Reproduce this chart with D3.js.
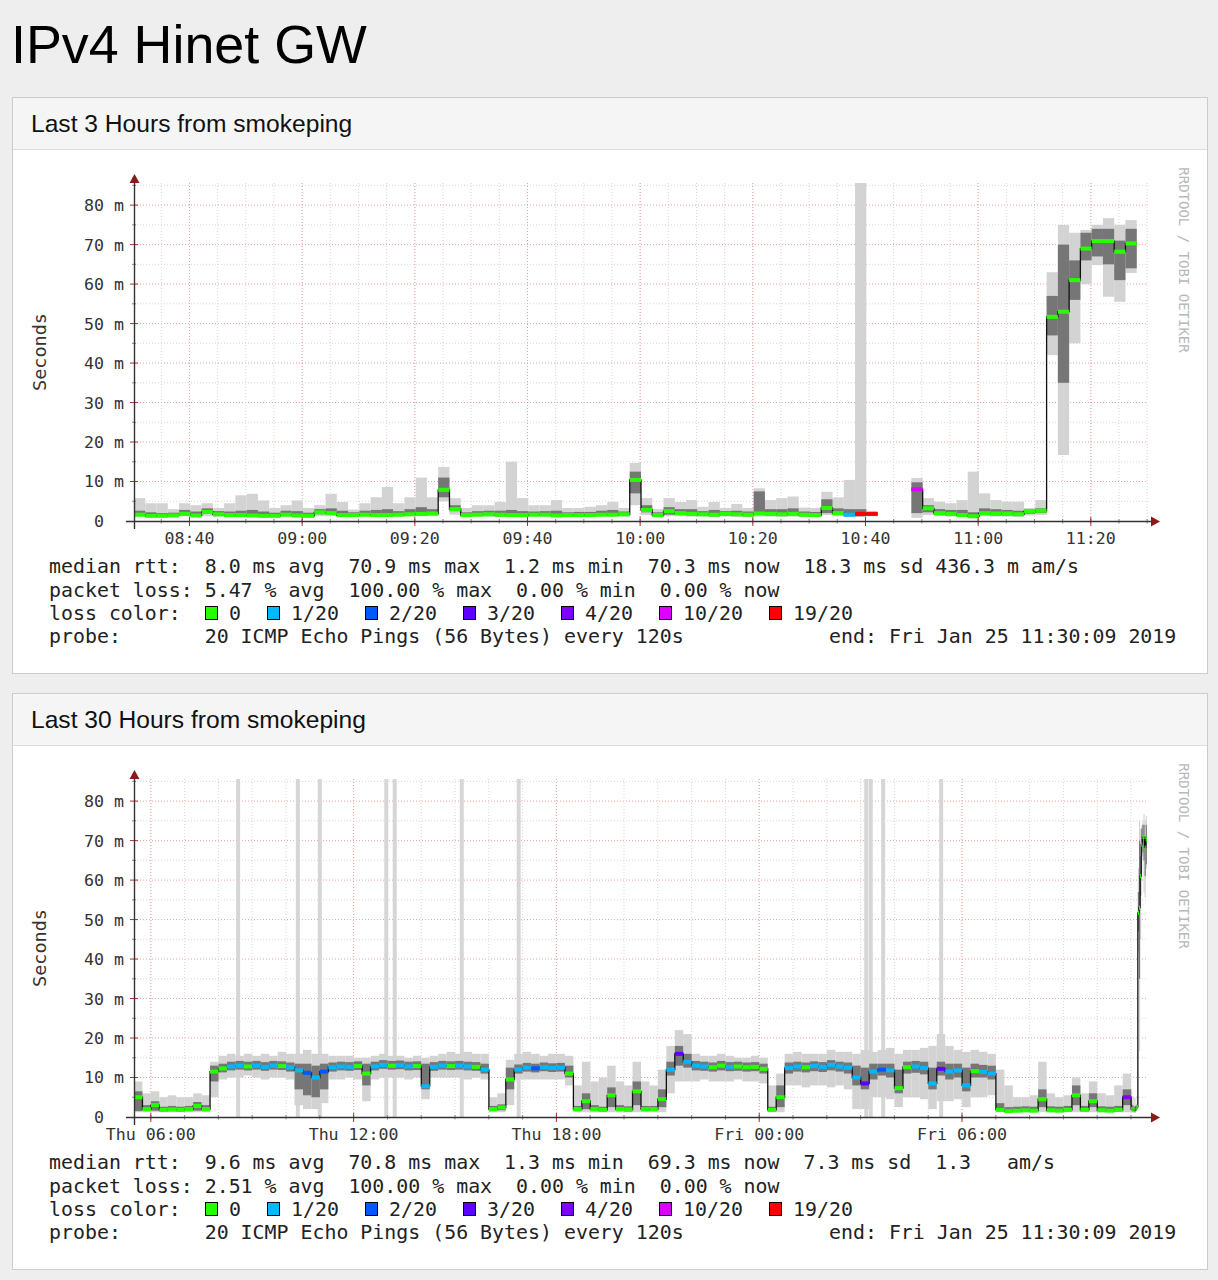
<!DOCTYPE html>
<html lang="en">
<head>
  <meta charset="UTF-8">
  <title>IPv4 Hinet GW</title>
  <style>
    body { margin: 0; background: #eeeeee; }
    svg text { white-space: pre; }
  </style>
</head>
<body>
<svg id="svg" width="1218" height="1280"></svg>

<script src="https://d3js.org/d3.v7.min.js"></script>
<script>
// ------ DATA ------------------------------------------------------------
const pageTitle = 'IPv4 Hinet GW'
const panelTitles = ['Last 3 Hours from smokeping', 'Last 30 Hours from smokeping']

const lossSteps = [0, 1, 2, 3, 4, 10, 19]
const lossLabels = ['0', '1/20', '2/20', '3/20', '4/20', '10/20', '19/20']
const lossColors = ['#26ff00', '#00b8ff', '#0059ff', '#5e00ff', '#7e00ff', '#dd00ff', '#ff0000']

const yTickValues = [0, 10, 20, 30, 40, 50, 60, 70, 80]   // milliseconds
const yMax = 85.6

// last 3 hours: one sample every 120 s
const start3h = '2019-01-25 08:30:09'
const end3h = '2019-01-25 11:30:09'
const median3h = [
  1.6, 1.3, 1.3, 1.4, 1.8, 1.4, 2.3, 1.7, 1.5, 1.5,
  1.4, 1.3, 1.3, 1.6, 1.4, 1.3, 2.2, 2.0, 1.5, 1.5,
  1.6, 1.5, 1.5, 1.6, 1.7, 1.8, 1.9, 7.9, 3.0, 1.5,
  1.6, 1.7, 1.6, 1.5, 1.5, 1.6, 1.6, 1.4, 1.5, 1.5,
  1.5, 1.6, 1.6, 1.7, 10.4, 2.8, 1.5, 2.5, 2.0, 1.8,
  1.7, 1.6, 1.8, 1.7, 1.6, 1.9, 1.8, 1.7, 1.8, 1.6,
  1.5, 3.3, 2.0, 1.6, 1.8, 1.8, null, null, null, 8.0,
  3.2, 2.0, 1.8, 1.5, 1.2, 2.0, 1.9, 1.9, 1.7, 2.4,
  2.6, 51.7, 53.0, 61.0, 69.0, 70.9, 70.9, 68.2, 70.3, null
]
const smokeLo3h = [
  1.1, 1.0, 1.0, 1.1, 1.2, 1.0, 1.2, 1.1, 1.1, 1.0,
  1.0, 1.0, 1.0, 1.1, 1.0, 1.0, 1.2, 1.2, 1.0, 1.1,
  1.1, 1.0, 1.1, 1.1, 1.2, 1.2, 1.2, 5.0, 1.6, 1.0,
  1.1, 1.1, 1.0, 1.0, 1.0, 1.1, 1.1, 1.0, 1.0, 1.0,
  1.0, 1.1, 1.1, 1.1, 4.0, 1.5, 1.0, 1.2, 1.2, 1.1,
  1.1, 1.0, 1.1, 1.0, 1.0, 1.1, 1.1, 1.0, 1.1, 1.0,
  1.0, 1.5, 1.2, 1.0, 1.0, 1.2, null, null, null, 0.8,
  1.5, 1.2, 1.1, 1.0, 0.9, 1.2, 1.1, 1.1, 1.0, 1.4,
  1.5, 42.0, 16.7, 45.0, 60.0, 64.8, 56.8, 55.5, 62.8, null
]
const smokeQ1_3h = [
  1.3, 1.1, 1.1, 1.2, 1.4, 1.2, 1.8, 1.3, 1.2, 1.2,
  1.2, 1.1, 1.1, 1.3, 1.2, 1.1, 1.7, 1.6, 1.2, 1.2,
  1.3, 1.2, 1.2, 1.3, 1.4, 1.4, 1.5, 6.0, 2.5, 1.2,
  1.3, 1.3, 1.2, 1.2, 1.2, 1.3, 1.3, 1.2, 1.2, 1.2,
  1.2, 1.3, 1.3, 1.3, 7.0, 2.2, 1.2, 1.6, 1.5, 1.4,
  1.3, 1.2, 1.4, 1.3, 1.2, 1.5, 1.4, 1.3, 1.4, 1.2,
  1.2, 2.0, 1.5, 1.2, 1.2, 1.4, null, null, null, 2.0,
  2.2, 1.5, 1.4, 1.2, 1.0, 1.5, 1.4, 1.4, 1.3, 1.8,
  2.0, 47.0, 35.0, 56.0, 66.0, 67.0, 65.0, 61.0, 64.0, null
]
const smokeQ3_3h = [
  2.6, 2.2, 2.0, 2.1, 2.8, 2.4, 3.2, 2.5, 2.4, 2.6,
  2.8, 2.4, 2.1, 2.6, 2.5, 2.1, 3.0, 3.2, 2.6, 2.2,
  2.6, 2.8, 3.0, 2.5, 3.0, 3.5, 3.0, 11.0, 4.0, 2.2,
  2.5, 2.6, 2.6, 2.8, 2.5, 2.4, 2.5, 2.6, 2.2, 2.3,
  2.3, 2.6, 2.8, 2.4, 12.5, 4.0, 2.2, 3.5, 3.0, 3.0,
  2.5, 2.8, 2.5, 2.6, 2.4, 7.5, 3.0, 3.0, 3.2, 2.4,
  2.3, 5.5, 3.2, 3.0, 3.0, 2.2, null, null, null, 9.8,
  4.0, 3.0, 2.8, 2.8, 2.2, 3.2, 3.0, 2.8, 2.6, 2.9,
  3.2, 57.0, 70.0, 66.0, 73.0, 74.0, 74.0, 71.0, 74.0, null
]
const smokeHi3h = [
  5.8, 4.5, 4.5, 3.0, 4.5, 4.0, 4.5, 3.3, 4.5, 6.5,
  6.9, 5.2, 3.3, 4.0, 5.2, 3.3, 4.0, 6.9, 4.8, 2.9,
  4.5, 6.0, 8.6, 4.5, 6.0, 11.0, 6.0, 13.7, 5.8, 3.3,
  4.0, 4.0, 4.8, 15.0, 5.8, 4.0, 4.0, 5.3, 3.3, 3.3,
  3.6, 4.0, 4.8, 3.3, 14.7, 5.8, 3.0, 5.8, 4.8, 5.3,
  3.6, 4.8, 3.3, 4.3, 3.3, 8.3, 5.3, 5.8, 6.2, 3.4,
  3.3, 7.4, 6.0, 10.4, 85.6, 2.6, null, null, null, 10.9,
  5.8, 4.9, 4.5, 5.3, 12.5, 7.0, 5.3, 4.9, 4.9, 3.3,
  5.3, 63.0, 75.0, 73.0, 73.7, 75.0, 76.7, 75.0, 76.2, null
]
const loss3h = [
  0, 0, 0, 0, 0, 0, 0, 0, 0, 0,
  0, 0, 0, 0, 0, 0, 0, 0, 0, 0,
  0, 0, 0, 0, 0, 0, 0, 0, 0, 0,
  0, 0, 0, 0, 0, 0, 0, 0, 0, 0,
  0, 0, 0, 0, 0, 0, 0, 0, 0, 0,
  0, 0, 0, 0, 0, 0, 0, 0, 0, 0,
  0, 0, 0, 1, 19, 19, null, null, null, 10,
  0, 0, 0, 0, 0, 0, 0, 0, 0, 0,
  0, 0, 0, 0, 0, 0, 0, 0, 0, null
]

// last 30 hours: 15 minute buckets up to 11:00, then the 120 s samples above
const start30h = '2019-01-24 05:30:09'
const median30h = [
  5.0, 2.0, 3.0, 1.8, 1.9, 1.8, 2.0, 2.8, 2.0, 11.5,
  12.3, 12.8, 13.0, 12.8, 13.0, 12.7, 13.0, 12.9, 12.6, 11.8,
  11.2, 10.0, 11.5, 12.6, 12.8, 12.7, 12.9, 11.0, 12.8, 13.2,
  13.0, 13.1, 12.8, 12.9, 7.8, 12.7, 13.0, 12.9, 13.0, 12.8,
  12.7, 12.0, 2.0, 2.4, 9.5, 12.0, 12.5, 12.3, 12.6, 12.4,
  12.5, 11.0, 2.0, 4.0, 2.0, 1.8, 5.5, 2.0, 1.9, 6.5,
  2.0, 2.0, 4.5, 12.0, 16.0, 14.0, 13.0, 12.8, 12.6, 13.0,
  12.7, 12.8, 12.6, 12.7, 12.2, 1.8, 5.0, 12.4, 12.8, 12.6,
  12.9, 12.7, 13.2, 12.8, 12.5, 10.0, 8.5, 11.5, 12.0, 11.8,
  7.3, 12.6, 12.8, 12.4, 8.5, 12.2, 11.5, 11.8, 8.0, 11.6,
  11.4, 11.0, 1.8, 1.5, 1.6, 1.7, 1.6, 4.5, 1.7, 1.6,
  1.8, 5.5, 1.8, 4.0, 1.7, 1.6, 1.8, 5.0
]
const smokeLo30h = [
  1.2, 1.2, 1.2, 1.2, 1.2, 1.2, 1.2, 1.2, 1.2, 5,
  9.5, 10, 10, 10.5, 10, 9.5, 10, 10, 9.5, 3,
  2, 2, 3.5, 9.5, 9.5, 10, 9.5, 4, 9.5, 10,
  10, 10, 9.5, 10, 4.5, 10, 10, 10, 10, 9.5,
  10, 9.5, 1.2, 1.2, 3, 9.5, 9.5, 9.5, 9.5, 9.5,
  9.5, 8, 1.2, 1.2, 1.2, 1.2, 1.2, 1.2, 1.2, 1.2,
  1.2, 1.2, 1.2, 6, 9, 9, 9, 9.5, 9, 9,
  9, 9.5, 9, 9, 8.5, 1.2, 1.2, 8, 8, 7.5,
  8, 8, 7.5, 8, 7, 2, 2, 5, 5, 4.5,
  2.5, 5, 5, 4.5, 2, 4, 4, 4.5, 2.5, 5,
  5, 5.5, 1.2, 1.2, 1.2, 1.2, 1.2, 1.2, 1.2, 1.2,
  1.2, 1.2, 1.2, 1.2, 1.2, 1.2, 1.2, 1.2
]
const smokeQ1_30h = [
  1.5, 1.5, 1.6, 1.4, 1.5, 1.4, 1.5, 1.6, 1.5, 9,
  11.3, 11.8, 12, 11.8, 12, 11.7, 12, 11.9, 11.5, 7,
  5.5, 5, 7, 11.5, 11.8, 11.7, 11.9, 8, 11.8, 12.2,
  12, 12.1, 11.8, 11.9, 7, 11.7, 12, 11.9, 12, 11.8,
  11.7, 11, 1.5, 1.7, 7, 11, 11.5, 11.3, 11.6, 11.4,
  11.5, 10, 1.5, 2, 1.5, 1.4, 2.5, 1.5, 1.4, 3,
  1.5, 1.5, 2.5, 10.5, 13, 12.5, 11.8, 11.7, 11.5, 11.8,
  11.6, 11.7, 11.5, 11.6, 11, 1.4, 2.5, 11, 11.5, 11.3,
  11.6, 11.4, 11.8, 11.5, 11, 8, 7, 9.5, 10.5, 10,
  6, 11, 11.2, 10.8, 7, 10.5, 9.5, 10, 6.5, 10,
  10, 9.5, 1.4, 1.3, 1.3, 1.4, 1.3, 2.5, 1.4, 1.3,
  1.4, 3, 1.4, 2.5, 1.4, 1.3, 1.4, 3
]
const smokeQ3_30h = [
  6.5, 3, 4, 2.6, 2.8, 2.6, 2.8, 3.8, 3, 13,
  13.5, 14, 14.2, 14, 14.2, 13.9, 14.2, 14.1, 13.8, 13.5,
  13.5, 13, 13.5, 13.8, 14, 13.9, 14.1, 13.5, 14, 14.4,
  14.2, 14.3, 14, 14.1, 13.5, 13.9, 14.2, 14.1, 14.2, 14,
  13.9, 13.5, 2.8, 3.2, 12.5, 13.3, 13.7, 13.5, 13.8, 13.6,
  13.7, 13, 2.8, 6, 3, 2.6, 7.5, 3, 2.7, 9,
  2.8, 2.8, 7, 14, 18, 16, 14.2, 14, 13.8, 14.2,
  13.9, 14, 13.8, 13.9, 13.5, 2.6, 8, 13.8, 14, 13.8,
  14.1, 13.9, 14.4, 14, 13.8, 13, 12.5, 13.5, 13.5, 13.5,
  12, 14, 14.2, 14, 12.5, 14, 13.5, 13.5, 12.5, 13.5,
  13.2, 13, 3.5, 2.5, 2.6, 2.7, 2.6, 7, 2.7, 2.6,
  2.8, 8, 2.8, 6, 2.7, 2.6, 2.8, 7
]
const smokeHi30h = [
  9, 6, 6.5, 5, 5.5, 5, 5, 6, 5.5, 14,
  15.5, 16, 15.5, 16, 15.5, 16, 15.5, 16.5, 16, 16,
  17, 16, 16, 15.5, 15.5, 15.5, 15, 15, 15.5, 16,
  15.5, 15.5, 15, 15.5, 15, 15.5, 16, 16.5, 16, 16.5,
  16, 16, 5, 6, 14.5, 16, 16.5, 16, 15.5, 16,
  16, 15.5, 8, 14, 9, 10, 13, 9, 8, 14,
  9, 8, 12, 18, 22, 21, 16, 15.5, 15.5, 16,
  15.5, 15, 15, 15.5, 15, 8, 11, 16, 16.5, 16,
  16, 16, 17, 16.5, 16.5, 16, 17, 16.5, 17, 17.5,
  16, 17, 17, 17.5, 18, 21, 18, 17, 16.5, 17,
  16.5, 16, 12, 8, 5, 5, 5.5, 14, 6, 5,
  5.5, 10, 6, 9, 6, 5.5, 8, 11
]
const loss30h = [
  0, 0, 0, 0, 0, 0, 0, 0, 0, 0,
  0, 1, 1, 0, 1, 1, 1, 0, 1, 1,
  2, 1, 2, 1, 1, 1, 0, 0, 1, 1,
  0, 1, 1, 0, 1, 1, 1, 0, 1, 1,
  0, 1, 0, 0, 0, 1, 1, 2, 1, 1,
  1, 0, 0, 0, 0, 0, 0, 0, 0, 0,
  0, 0, 0, 1, 3, 1, 1, 1, 0, 0,
  1, 0, 0, 0, 0, 0, 0, 1, 1, 0,
  1, 1, 1, 1, 1, 1, 3, 1, 2, 1,
  0, 0, 1, 1, 1, 3, 1, 1, 1, 0,
  1, 1, 0, 0, 0, 0, 0, 0, 0, 0,
  0, 0, 0, 0, 0, 0, 0, 4
]
// single outlier pings that reach the top of the 30 hour graph
const spikeTimes30h = [
  '2019-01-24 08:35:00', '2019-01-24 10:21:00', '2019-01-24 11:00:00',
  '2019-01-24 12:58:00', '2019-01-24 13:13:00', '2019-01-24 15:12:00',
  '2019-01-24 16:53:00', '2019-01-25 03:10:00', '2019-01-25 03:18:00',
  '2019-01-25 03:40:00', '2019-01-25 05:23:00'
]
const spikeTops30h = [85.6, 85.6, 85.6, 85.6, 85.6, 85.6, 85.6, 85.6, 85.6, 85.6, 85.6]

const legend3h = [
  'median rtt:  8.0 ms avg  70.9 ms max  1.2 ms min  70.3 ms now  18.3 ms sd 436.3 m am/s',
  'packet loss: 5.47 % avg  100.00 % max  0.00 % min  0.00 % now'
]
const legend30h = [
  'median rtt:  9.6 ms avg  70.8 ms max  1.3 ms min  69.3 ms now  7.3 ms sd  1.3   am/s',
  'packet loss: 2.51 % avg  100.00 % max  0.00 % min  0.00 % now'
]
const probeText = 'probe:       20 ICMP Echo Pings (56 Bytes) every 120s'
const endText = 'end: Fri Jan 25 11:30:09 2019'

// ------ BUILD SERIES ----------------------------------------------------
const parseTime = d3.timeParse('%Y-%m-%d %H:%M:%S')
const t3 = parseTime(start3h)
const t30 = parseTime(start30h)
const tEnd = parseTime(end3h)

const series3h = median3h.map((m, i) => ({
  t: new Date(+t3 + i * 120e3), dur: 120e3, med: m,
  lo: smokeLo3h[i], q1: smokeQ1_3h[i], q3: smokeQ3_3h[i], hi: smokeHi3h[i], loss: loss3h[i]
}))
const series30h = median30h.map((m, i) => ({
  t: new Date(+t30 + i * 900e3), dur: 900e3, med: m,
  lo: smokeLo30h[i], q1: smokeQ1_30h[i], q3: smokeQ3_30h[i], hi: smokeHi30h[i], loss: loss30h[i]
})).concat(series3h.filter(d => d.t >= new Date(+t30 + median30h.length * 900e3)))

const lossColor = l => lossColors[lossSteps.indexOf(l)]

// ------ DRAW ------------------------------------------------------------
const svg = d3.select('#svg')
const mono = '"DejaVu Sans Mono", monospace'
const sans = '"Liberation Sans", Arial, Helvetica, sans-serif'

svg.append('text')
  .attr('x', 11).attr('y', 63)
  .attr('font-family', sans).attr('font-size', 53.8)
  .attr('fill', '#000')
  .text(pageTitle)

function drawPanel(oy, title) {
  svg.append('rect')
    .attr('x', 12.5).attr('y', oy + 97.5).attr('width', 1195).attr('height', 576)
    .attr('fill', '#fff').attr('stroke', '#cccccc')
  svg.append('rect')
    .attr('x', 13).attr('y', oy + 98).attr('width', 1194).attr('height', 51)
    .attr('fill', '#f5f5f5')
  svg.append('line')
    .attr('x1', 13).attr('x2', 1207).attr('y1', oy + 149.5).attr('y2', oy + 149.5)
    .attr('stroke', '#dddddd')
  svg.append('text')
    .attr('x', 31).attr('y', oy + 132)
    .attr('font-family', sans).attr('font-size', 24.6).attr('fill', '#111')
    .text(title)
}

function drawChart(oy, series, domain, grid, spikes, legendLines) {
  const g = svg.append('g').attr('transform', `translate(0,${oy})`)
  const x = d3.scaleTime().domain(domain).range([134, 1148])
  const y = d3.scaleLinear().domain([0, yMax]).range([521, 183])

  // grid
  const gridG = g.append('g').attr('fill', 'none')
  d3.range(5, yMax, 5).forEach(v => {
    gridG.append('line')
      .attr('x1', 134).attr('x2', 1148).attr('y1', y(v)).attr('y2', y(v))
      .attr('stroke', v % 10 === 0 ? '#f0a0a0' : '#d6d6d6')
      .attr('stroke-dasharray', '1,2')
  })
  const minorT = x.ticks(grid.minor)
  const majorT = x.ticks(grid.major)
  minorT.forEach(t => {
    gridG.append('line')
      .attr('x1', x(t)).attr('x2', x(t)).attr('y1', 183).attr('y2', 521)
      .attr('stroke', '#d6d6d6').attr('stroke-dasharray', '1,2')
  })
  majorT.forEach(t => {
    gridG.append('line')
      .attr('x1', x(t)).attr('x2', x(t)).attr('y1', 183).attr('y2', 521)
      .attr('stroke', '#f0a0a0').attr('stroke-dasharray', '1,2')
  })

  // spikes
  if (spikes) {
    g.selectAll('rect.spike')
      .data(spikes.times.map((s, i) => ({ t: parseTime(s), v: spikes.tops[i] })))
      .join('rect')
      .attr('class', 'spike')
      .attr('x', d => x(d.t) - 2).attr('width', 4)
      .attr('y', d => y(d.v)).attr('height', d => y(0) - y(d.v))
      .attr('fill', '#d6d6d6')
  }

  const valid = series.filter(d => d.med !== null)
  const bx = d => x(d.t)
  const bw = d => x(new Date(+d.t + d.dur)) - x(d.t)

  // smoke
  g.selectAll('rect.smoke-out')
    .data(valid)
    .join('rect')
    .attr('class', 'smoke-out')
    .attr('x', bx).attr('width', bw)
    .attr('y', d => y(d.hi)).attr('height', d => y(d.lo) - y(d.hi))
    .attr('fill', '#d3d3d3')
  g.selectAll('rect.smoke-in')
    .data(valid)
    .join('rect')
    .attr('class', 'smoke-in')
    .attr('x', bx).attr('width', bw)
    .attr('y', d => y(d.q3)).attr('height', d => y(d.q1) - y(d.q3))
    .attr('fill', '#767676')

  // median step line
  const pts = []
  series.forEach(d => {
    pts.push({ x: bx(d), y: d.med === null ? null : y(d.med) })
    pts.push({ x: bx(d) + bw(d), y: d.med === null ? null : y(d.med) })
  })
  g.append('path')
    .attr('d', d3.line().defined(p => p.y !== null).x(p => p.x).y(p => p.y)(pts))
    .attr('fill', 'none').attr('stroke', '#111').attr('stroke-width', 1.3)

  // median coloured by loss
  g.selectAll('rect.med')
    .data(valid)
    .join('rect')
    .attr('class', 'med')
    .attr('x', bx).attr('width', bw)
    .attr('y', d => y(d.med) - 2).attr('height', 4)
    .attr('fill', d => lossColor(d.loss))

  // axes
  minorT.forEach(t => {
    g.append('line').attr('x1', x(t)).attr('x2', x(t)).attr('y1', 519).attr('y2', 523.5)
      .attr('stroke', '#888')
  })
  majorT.forEach(t => {
    g.append('line').attr('x1', x(t)).attr('x2', x(t)).attr('y1', 517).attr('y2', 526)
      .attr('stroke', '#b03030')
  })
  d3.range(5, yMax, 5).forEach(v => {
    g.append('line').attr('x1', v % 10 === 0 ? 130 : 132).attr('x2', v % 10 === 0 ? 138 : 136)
      .attr('y1', y(v)).attr('y2', y(v))
      .attr('stroke', v % 10 === 0 ? '#b03030' : '#888')
  })
  g.append('line').attr('x1', 126).attr('x2', 1152).attr('y1', 521.5).attr('y2', 521.5)
    .attr('stroke', '#333').attr('stroke-width', 1.4)
  g.append('path').attr('d', 'M1151,516.5 L1160,521.5 L1151,526.5 Z').attr('fill', '#8b1a1a')
  g.append('line').attr('x1', 134.5).attr('x2', 134.5).attr('y1', 529).attr('y2', 182)
    .attr('stroke', '#333').attr('stroke-width', 1.4)
  g.append('path').attr('d', 'M129.5,183 L134.5,174 L139.5,183 Z').attr('fill', '#8b1a1a')

  // tick labels
  g.selectAll('text.ylab')
    .data(yTickValues)
    .join('text')
    .attr('class', 'ylab')
    .attr('x', 124).attr('y', d => y(d)).attr('dy', '0.36em')
    .attr('text-anchor', 'end')
    .attr('font-family', mono).attr('font-size', 16.6).attr('fill', '#333')
    .text(d => d === 0 ? '0  ' : d + ' m')
  g.selectAll('text.xlab')
    .data(majorT.filter(t => x(t) > 140 && x(t) < 1140))
    .join('text')
    .attr('class', 'xlab')
    .attr('x', d => x(d)).attr('y', 544)
    .attr('text-anchor', 'middle')
    .attr('font-family', mono).attr('font-size', 16.6).attr('fill', '#333')
    .text(d3.timeFormat(grid.format))

  g.append('text')
    .attr('transform', 'translate(46,352) rotate(-90)')
    .attr('text-anchor', 'middle')
    .attr('font-family', mono).attr('font-size', 18.5).attr('fill', '#333')
    .text('Seconds')
  g.append('text')
    .attr('transform', 'translate(1179,260) rotate(90)')
    .attr('text-anchor', 'middle')
    .attr('font-family', mono).attr('font-size', 14).attr('fill', '#b8b8b8')
    .text('RRDTOOL / TOBI OETIKER')

  // legend
  const lg = g.append('g').attr('font-family', mono).attr('font-size', 19.9).attr('fill', '#222')
  legendLines.forEach((l, i) => {
    lg.append('text').attr('x', 49).attr('y', 573 + i * 23.5).text(l)
  })
  lg.append('text').attr('x', 49).attr('y', 620).text('loss color:')
  let sx = 205
  lossLabels.forEach((lab, i) => {
    lg.append('rect').attr('x', sx + 0.5).attr('y', 606.5).attr('width', 12).attr('height', 13)
      .attr('fill', lossColors[i]).attr('stroke', '#000')
    lg.append('text').attr('x', sx + 24).attr('y', 620).text(lab)
    sx += 24 + lab.length * 12 + 26
  })
  lg.append('text').attr('x', 49).attr('y', 643).text(probeText)
  lg.append('text').attr('x', 829).attr('y', 643).text(endText)
}

drawPanel(0, panelTitles[0])
drawPanel(596, panelTitles[1])

drawChart(0, series3h, [t3, tEnd],
  { minor: d3.timeMinute.every(5), major: d3.timeMinute.every(20), format: '%H:%M' },
  null, legend3h)
drawChart(596, series30h, [t30, tEnd],
  { minor: d3.timeHour.every(1), major: d3.timeHour.every(6), format: '%a %H:%M' },
  { times: spikeTimes30h, tops: spikeTops30h }, legend30h)
</script>
</body>
</html>
